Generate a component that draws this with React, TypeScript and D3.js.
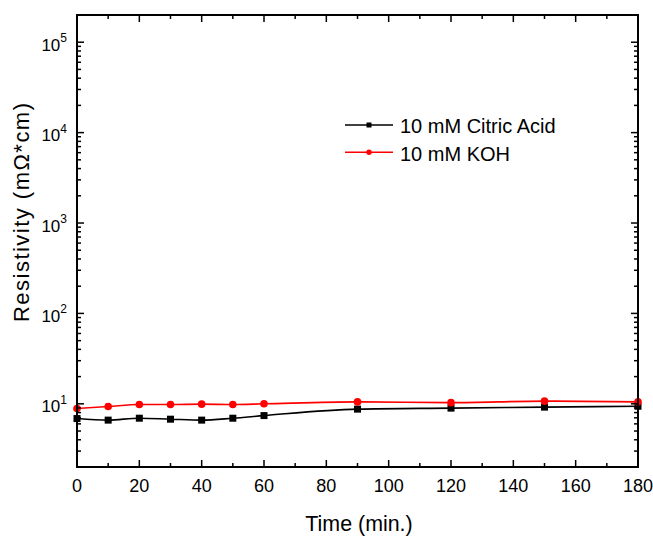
import React from "react";
import * as d3 from "d3";

const times = [0, 10, 20, 30, 40, 50, 60, 90, 120, 150, 180];
const citricAcid = [6.87, 6.6, 6.93, 6.76, 6.6, 6.93, 7.41, 8.73, 8.96, 9.19, 9.4];
const koh = [8.87, 9.33, 9.82, 9.82, 9.92, 9.82, 10.0, 10.5, 10.3, 10.7, 10.5];
const xTicks = [0, 20, 40, 60, 80, 100, 120, 140, 160, 180];
const xMinorTicks = [10, 30, 50, 70, 90, 110, 130, 150, 170];
const yExponents = [1, 2, 3, 4, 5];
const seriesNames = ["10 mM Citric Acid", "10 mM KOH"];

const W = 653;
const H = 538;
const L = 77, R = 638, T = 15, B = 467;
const FONT = "'Liberation Sans', Arial, sans-serif";

export default function App() {
  const x = d3.scaleLinear().domain([0, 180]).range([L, R]);
  const y = d3.scaleLog().domain([2, 2e5]).range([B, T]);

  const line = d3
    .line<[number, number]>()
    .x((d) => x(d[0]))
    .y((d) => y(d[1]))
    .curve(d3.curveMonotoneX);

  const blackData: [number, number][] = times.map((t, i) => [t, citricAcid[i]]);
  const redData: [number, number][] = times.map((t, i) => [t, koh[i]]);

  const minorY: number[] = [];
  for (let e = 0; e <= 5; e++) {
    for (let m = 2; m <= 9; m++) {
      const v = m * Math.pow(10, e);
      if (v > 2 && v < 2e5) minorY.push(v);
    }
  }

  const majorLen = 7;
  const minorLen = 4;

  return (
    <svg width={W} height={H} style={{ display: "block", position: "absolute", left: 0, top: 0 }}>
      <rect x={0} y={0} width={W} height={H} fill="white" />
      {/* series */}
      <path d={line(blackData) || ""} fill="none" stroke="black" strokeWidth={1.6} />
      <path d={line(redData) || ""} fill="none" stroke="#ff0000" strokeWidth={1.6} />
      {blackData.map((d, i) => (
        <rect key={"b" + i} x={x(d[0]) - 3.5} y={y(d[1]) - 3.5} width={7} height={7} fill="black" />
      ))}
      {redData.map((d, i) => (
        <circle key={"r" + i} cx={x(d[0])} cy={y(d[1])} r={3.8} fill="#ff0000" />
      ))}

      {/* frame */}
      <rect x={L} y={T} width={R - L} height={B - T} fill="none" stroke="black" strokeWidth={2} />

      {/* x ticks bottom & top */}
      {xTicks.map((t) => (
        <g key={"xt" + t}>
          <line x1={x(t)} x2={x(t)} y1={B} y2={B - majorLen} stroke="black" strokeWidth={1.5} />
          <line x1={x(t)} x2={x(t)} y1={T} y2={T + majorLen} stroke="black" strokeWidth={1.5} />
          <text x={x(t)} y={492} textAnchor="middle" fontFamily={FONT} fontSize={18} fill="black">
            {t}
          </text>
        </g>
      ))}
      {xMinorTicks.map((t) => (
        <g key={"xm" + t}>
          <line x1={x(t)} x2={x(t)} y1={B} y2={B - minorLen} stroke="black" strokeWidth={1.5} />
          <line x1={x(t)} x2={x(t)} y1={T} y2={T + minorLen} stroke="black" strokeWidth={1.5} />
        </g>
      ))}

      {/* y ticks left & right */}
      {yExponents.map((e) => {
        const yy = y(Math.pow(10, e));
        return (
          <g key={"yt" + e}>
            <line x1={L} x2={L + majorLen} y1={yy} y2={yy} stroke="black" strokeWidth={1.5} />
            <line x1={R} x2={R - majorLen} y1={yy} y2={yy} stroke="black" strokeWidth={1.5} />
            <text x={67} y={yy + 8.5} textAnchor="end" fontFamily={FONT} fontSize={17} fill="black">
              10
              <tspan fontSize={12} dy={-8.5}>{e}</tspan>
            </text>
          </g>
        );
      })}
      {minorY.map((v, i) => (
        <g key={"ym" + i}>
          <line x1={L} x2={L + minorLen} y1={y(v)} y2={y(v)} stroke="black" strokeWidth={1.5} />
          <line x1={R} x2={R - minorLen} y1={y(v)} y2={y(v)} stroke="black" strokeWidth={1.5} />
        </g>
      ))}

      {/* axis titles */}
      <text x={359} y={531} textAnchor="middle" fontFamily={FONT} fontSize={21.4} fill="black">
        Time (min.)
      </text>
      <text
        transform={`translate(29, 212.5) rotate(-90)`}
        textAnchor="middle"
        fontFamily={FONT}
        fontSize={22}
        fill="black"
        textLength={219}
        lengthAdjust="spacing"
      >
        Resistivity (mΩ*cm)
      </text>

      {/* legend */}
      {seriesNames.map((name, i) => {
        const ly = 125 + i * 27.3;
        const color = i === 0 ? "black" : "#ff0000";
        return (
          <g key={"lg" + i}>
            <line x1={345} x2={393} y1={ly} y2={ly} stroke={color} strokeWidth={1.5} />
            {i === 0 ? (
              <rect x={369 - 2.5} y={ly - 2.5} width={5} height={5} fill={color} />
            ) : (
              <circle cx={369} cy={ly} r={2.7} fill={color} />
            )}
            <text x={400} y={ly + 8.3} fontFamily={FONT} fontSize={20} fill="black">
              {name}
            </text>
          </g>
        );
      })}
    </svg>
  );
}
